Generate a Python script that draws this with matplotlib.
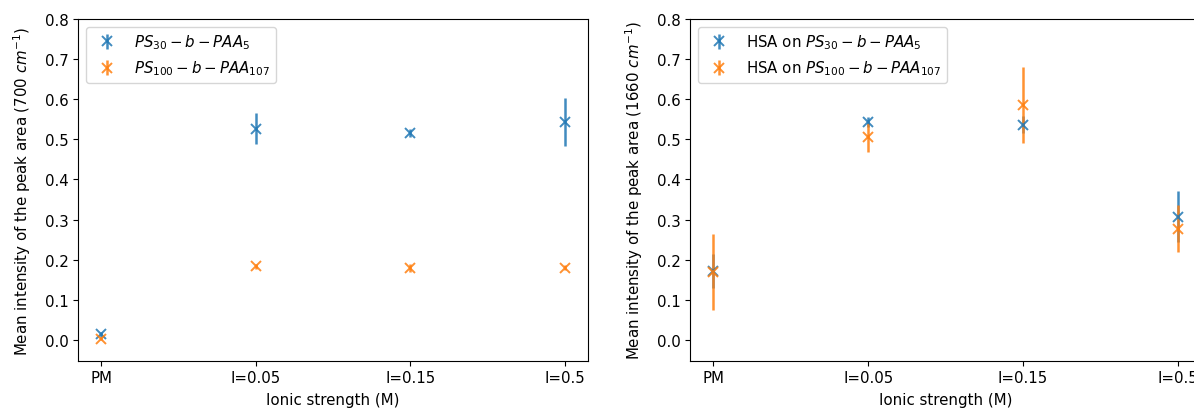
import matplotlib.pyplot as plt

plt.rcParams['font.size'] = 10.8

# categories on the x axis
conditions = ['PM', 'I=0.05', 'I=0.15', 'I=0.5']

# left panel: 700 cm-1 peak
ps30_700 = [0.014, 0.527, 0.515, 0.544]
ps30_700_err = [0.006, 0.038, 0.010, 0.060]
ps100_700 = [0.003, 0.183, 0.178, 0.180]
ps100_700_err = [0.004, 0.006, 0.010, 0.007]

# right panel: 1660 cm-1 peak (HSA)
ps30_1660 = [0.171, 0.543, 0.537, 0.307]
ps30_1660_err = [0.042, 0.012, 0.020, 0.063]
ps100_1660 = [0.170, 0.505, 0.585, 0.277]
ps100_1660_err = [0.095, 0.037, 0.095, 0.058]

fig = plt.figure(figsize=(11.94, 4.10), dpi=100)
ax1 = fig.add_axes([0.0655, 0.118, 0.427, 0.833])
ax2 = fig.add_axes([0.578, 0.118, 0.428, 0.833])

style = dict(fmt='x', alpha=0.85, markersize=7, elinewidth=1.8, markeredgewidth=1.4)

ax1.errorbar(conditions, ps30_700, yerr=ps30_700_err, color='tab:blue',
             label='$PS_{30}-b-PAA_5$', **style)
ax1.errorbar(conditions, ps100_700, yerr=ps100_700_err, color='tab:orange',
             label='$PS_{100}-b-PAA_{107}$', **style)
ax1.set_ylabel('Mean intensity of the peak area (700 $cm^{-1}$)', labelpad=8)

ax2.errorbar(conditions, ps30_1660, yerr=ps30_1660_err, color='tab:blue',
             label='HSA on $PS_{30}-b-PAA_5$', **style)
ax2.errorbar(conditions, ps100_1660, yerr=ps100_1660_err, color='tab:orange',
             label='HSA on $PS_{100}-b-PAA_{107}$', **style)
ax2.set_ylabel('Mean intensity of the peak area (1660 $cm^{-1}$)', labelpad=8)

for ax in (ax1, ax2):
    ax.set_ylim(-0.052, 0.8)
    ax.set_xlabel('Ionic strength (M)', labelpad=5)
    ax.legend(loc='upper left')

fig.savefig('out.png', dpi=100)
